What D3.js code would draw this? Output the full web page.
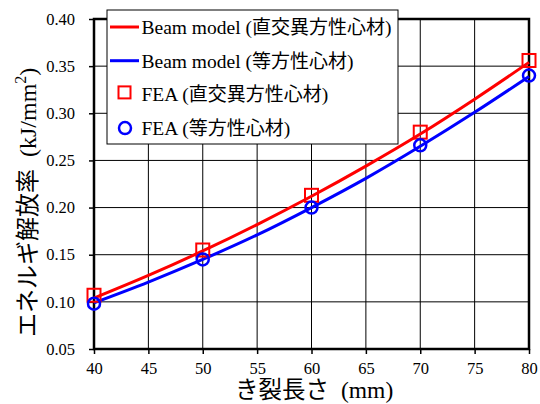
<!DOCTYPE html>
<html>
<head>
<meta charset="utf-8">
<script src="https://cdn.jsdelivr.net/npm/d3@7"></script>
<style>
  body { margin: 0; background: #fff; }
  svg text { fill: #000; }
</style>
</head>
<body>
<div id="chart"></div>
<script>
// crack length (mm)
const crackLen = [40, 45, 50, 55, 60, 65, 70, 75, 80];
// beam model curves
const beamOrtho = [0.104, 0.128, 0.154, 0.182, 0.212, 0.244, 0.278, 0.315, 0.354];
const beamIso   = [0.099, 0.121, 0.145, 0.171, 0.200, 0.231, 0.265, 0.301, 0.339];
// FEA points
const feaLen   = [40, 50, 60, 70, 80];
const feaOrtho = [0.107, 0.155, 0.213, 0.280, 0.356];
const feaIso   = [0.098, 0.145, 0.200, 0.266, 0.340];

const xTicks = [40, 45, 50, 55, 60, 65, 70, 75, 80];
const yTicks = [0.05, 0.10, 0.15, 0.20, 0.25, 0.30, 0.35, 0.40];

const legendItems = [
  {pre: "Beam model (", jp: "直交異方性心材", color: "red", kind: "line"},
  {pre: "Beam model (", jp: "等方性心材", color: "blue", kind: "line"},
  {pre: "FEA (", jp: "直交異方性心材", color: "red", kind: "square"},
  {pre: "FEA (", jp: "等方性心材", color: "blue", kind: "circle"}
];

const W = 540, H = 404;
const m = {left: 94, top: 19, right: 11, bottom: 55};
const serif = "Liberation Serif";
const jp = "Noto Sans CJK JP";

const svg = d3.select("#chart").append("svg")
  .attr("width", W).attr("height", H);

const x = d3.scaleLinear().domain([40, 80]).range([m.left, W - m.right]);
const y = d3.scaleLinear().domain([0.05, 0.40]).range([H - m.bottom, m.top]);

// grid
svg.append("g").selectAll("line").data(xTicks.slice(1, -1)).join("line")
  .attr("x1", d => x(d)).attr("x2", d => x(d))
  .attr("y1", y(0.05)).attr("y2", y(0.40))
  .attr("stroke", "#000").attr("stroke-width", 1);
svg.append("g").selectAll("line").data(yTicks.slice(1, -1)).join("line")
  .attr("x1", x(40)).attr("x2", x(80))
  .attr("y1", d => y(d)).attr("y2", d => y(d))
  .attr("stroke", "#000").attr("stroke-width", 1);

// frame
svg.append("rect")
  .attr("x", x(40)).attr("y", y(0.40))
  .attr("width", x(80) - x(40)).attr("height", y(0.05) - y(0.40))
  .attr("fill", "none").attr("stroke", "#000").attr("stroke-width", 2.5);

// axes
const xAxis = svg.append("g")
  .attr("transform", `translate(0,${y(0.05)})`)
  .call(d3.axisBottom(x).tickValues(xTicks).tickSize(5).tickPadding(8));
const yAxis = svg.append("g")
  .attr("transform", `translate(${x(40)},0)`)
  .call(d3.axisLeft(y).tickValues(yTicks).tickSize(5).tickPadding(14).tickFormat(d3.format(".2f")));
[xAxis, yAxis].forEach(g => {
  g.attr("font-family", serif).attr("font-size", 16.5);
  g.select(".domain").remove();
  g.selectAll(".tick line").attr("stroke", "#000").attr("stroke-width", 1.5);
  g.selectAll(".tick text").style("font-family", serif).attr("fill", "#000");
});

// beam model curves
const line = d3.line().x((d, i) => x(crackLen[i])).y(d => y(d)).curve(d3.curveMonotoneX);
svg.append("path").datum(beamOrtho).attr("d", line)
  .attr("fill", "none").attr("stroke", "red").attr("stroke-width", 3);
svg.append("path").datum(beamIso).attr("d", line)
  .attr("fill", "none").attr("stroke", "blue").attr("stroke-width", 3);

// FEA markers
svg.append("g").selectAll("rect").data(feaOrtho).join("rect")
  .attr("x", (d, i) => x(feaLen[i]) - 6.5).attr("y", d => y(d) - 6.5)
  .attr("width", 13).attr("height", 13)
  .attr("fill", "none").attr("stroke", "red").attr("stroke-width", 2);
svg.append("g").selectAll("circle").data(feaIso).join("circle")
  .attr("cx", (d, i) => x(feaLen[i])).attr("cy", d => y(d)).attr("r", 6)
  .attr("fill", "none").attr("stroke", "blue").attr("stroke-width", 2.5);

// legend
const lg = svg.append("g").attr("transform", "translate(107,10)");
lg.append("rect").attr("width", 291).attr("height", 134)
  .attr("fill", "#fff").attr("stroke", "#000").attr("stroke-width", 1);
const rows = lg.selectAll("g.row").data(legendItems).join("g")
  .attr("class", "row")
  .attr("transform", (d, i) => `translate(0,${17 + i * 33.7})`);
rows.filter(d => d.kind === "line").append("line")
  .attr("x1", 3).attr("x2", 32).attr("y1", 0).attr("y2", 0)
  .attr("stroke", d => d.color).attr("stroke-width", 3);
rows.filter(d => d.kind === "square").append("rect")
  .attr("x", 11.5).attr("y", -8).attr("width", 12).attr("height", 12)
  .attr("fill", "none").attr("stroke", d => d.color).attr("stroke-width", 2);
rows.filter(d => d.kind === "circle").append("circle")
  .attr("cx", 18).attr("cy", 0).attr("r", 6)
  .attr("fill", "none").attr("stroke", d => d.color).attr("stroke-width", 2.5);
const lt = rows.append("text")
  .attr("x", 34.5).attr("y", 0).attr("dy", "0.35em")
  .attr("font-size", 19.5);
lt.append("tspan").style("font-family", serif).text(d => d.pre);
lt.append("tspan").style("font-family", jp).attr("font-size", 19).text(d => d.jp);
lt.append("tspan").style("font-family", serif).text(")");

// axis titles
const xt = svg.append("text")
  .attr("x", 235).attr("y", 398)
  .attr("font-size", 23.5);
xt.append("tspan").style("font-family", jp).text("き裂長さ");
xt.append("tspan").style("font-family", serif).attr("dx", 12).text("(mm)");

const yt = svg.append("text")
  .attr("transform", "translate(36,337) rotate(-90)")
  .attr("font-size", 24);
yt.append("tspan").style("font-family", jp).text("エネルギ解放率");
yt.append("tspan").style("font-family", serif).attr("dx", 12).text("(kJ/mm");
yt.append("tspan").style("font-family", serif).attr("font-size", 16).attr("dy", -10).text("2");
yt.append("tspan").style("font-family", serif).attr("dy", 10).text(")");
</script>
</body>
</html>
